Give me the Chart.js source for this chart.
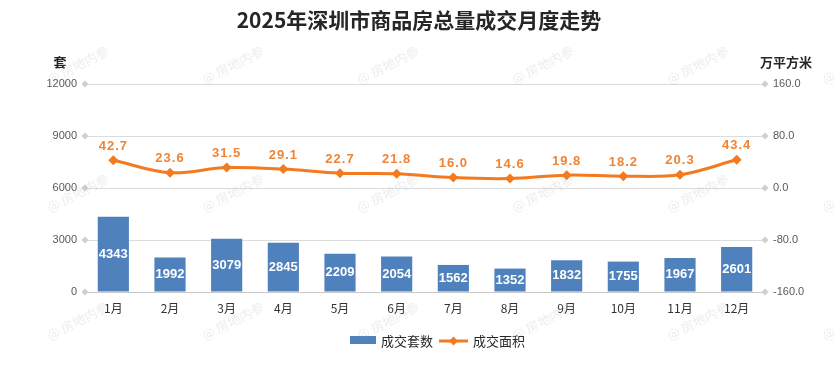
<!DOCTYPE html>
<html>
<head>
<meta charset="utf-8">
<script src="https://cdn.jsdelivr.net/npm/chart.js"></script>
<style>
  body { margin: 0; background: #fff; }
  canvas { display: block; }
</style>
</head>
<body>
<canvas id="grafica" width="836" height="372"></canvas>
<script>
// datos
const meses = ["1月", "2月", "3月", "4月", "5月", "6月", "7月", "8月", "9月", "10月", "11月", "12月"];
const tituloGrafica = "2025年深圳市商品房总量成交月度走势";
const nombreTaos = "成交套数";
const nombreArea = "成交面积";
const unidadIzq = "套";
const unidadDer = "万平方米";
const marcaAgua = "@ 房地内参";
const conjuntosVendidos = [4343, 1992, 3079, 2845, 2209, 2054, 1562, 1352, 1832, 1755, 1967, 2601];
const areaVendida = [42.7, 23.6, 31.5, 29.1, 22.7, 21.8, 16.0, 14.6, 19.8, 18.2, 20.3, 43.4];
const ticksIzq = [0, 3000, 6000, 9000, 12000];
const ticksDer = [-160, -80, 0, 80, 160];

const azul = "#4F81BD";
const naranja = "#F47A1F";
const naranjaTexto = "#EF8435";
const fuenteCJK = '"Noto Sans CJK SC", "Liberation Sans", sans-serif';
const fuenteNum = '"Liberation Sans", "Noto Sans CJK SC", sans-serif';

// rombos grises al final de cada linea de la cuadricula
const rombo = (ctx, x, y, r, color) => {
  ctx.beginPath();
  ctx.moveTo(x, y - r);
  ctx.lineTo(x + r, y);
  ctx.lineTo(x, y + r);
  ctx.lineTo(x - r, y);
  ctx.closePath();
  ctx.fillStyle = color;
  ctx.fill();
};

const pluginMarcaAgua = {
  id: "marcaAgua",
  afterDraw(chart) {
    const ctx = chart.ctx;
    ctx.save();
    ctx.font = "13px " + fuenteCJK;
    ctx.fillStyle = "rgba(160,160,160,0.2)";
    ctx.textAlign = "center";
    ctx.textBaseline = "middle";
    for (let fila = 0; fila < 3; fila++) {
      for (let col = 0; col < 6; col++) {
        ctx.save();
        ctx.translate(78 + col * 155, 65 + fila * 128);
        ctx.rotate(-27 * Math.PI / 180);
        ctx.fillText(marcaAgua, 0, 0);
        ctx.restore();
      }
    }
    ctx.restore();
  }
};

const pluginTextos = {
  id: "textos",
  afterDatasetsDraw(chart) {
    const ctx = chart.ctx;
    const area = chart.chartArea;
    ctx.save();

    // rombos de los ejes
    chart.scales.y.ticks.forEach((t, i) => {
      rombo(ctx, area.left, chart.scales.y.getPixelForTick(i), 3.5, "#cfcfcf");
    });
    chart.scales.y1.ticks.forEach((t, i) => {
      rombo(ctx, area.right, chart.scales.y1.getPixelForTick(i), 3.5, "#cfcfcf");
    });

    // etiquetas de barras
    const metaBar = chart.getDatasetMeta(0);
    ctx.font = "bold 13px " + fuenteNum;
    ctx.fillStyle = "#fff";
    ctx.textAlign = "center";
    ctx.textBaseline = "middle";
    metaBar.data.forEach((barra, i) => {
      const centro = (barra.y + barra.base) / 2;
      ctx.fillText(String(conjuntosVendidos[i]), barra.x, centro);
    });

    // etiquetas de la linea
    const metaLinea = chart.getDatasetMeta(1);
    ctx.font = "bold 13px " + fuenteNum;
    ctx.fillStyle = naranjaTexto;
    ctx.letterSpacing = "1px";
    metaLinea.data.forEach((punto, i) => {
      ctx.fillText(areaVendida[i].toFixed(1), punto.x, punto.y - 14);
    });
    ctx.letterSpacing = "0px";

    // titulo y unidades
    ctx.fillStyle = "#262626";
    ctx.font = "bold 21px " + fuenteCJK;
    ctx.fillText(tituloGrafica, 419, 20);
    ctx.font = "bold 13px " + fuenteCJK;
    ctx.fillText(unidadIzq, 60, 62);
    ctx.fillText(unidadDer, 786, 62);

    // leyenda
    ctx.fillStyle = azul;
    ctx.fillRect(350, 336, 26, 8);
    ctx.fillStyle = "#262626";
    ctx.font = "13px " + fuenteCJK;
    ctx.textAlign = "left";
    ctx.fillText(nombreTaos, 381, 341);
    ctx.strokeStyle = naranja;
    ctx.lineWidth = 3;
    ctx.beginPath();
    ctx.moveTo(439, 341);
    ctx.lineTo(468, 341);
    ctx.stroke();
    rombo(ctx, 453.5, 341, 4.5, naranja);
    ctx.fillStyle = "#262626";
    ctx.fillText(nombreArea, 473, 341);

    ctx.restore();
  }
};

new Chart(document.getElementById("grafica"), {
  type: "bar",
  data: {
    labels: meses,
    datasets: [{
      type: "bar",
      label: nombreTaos,
      data: conjuntosVendidos,
      backgroundColor: azul,
      yAxisID: "y",
      order: 1,
      categoryPercentage: 1,
      barPercentage: 0.55
    }, {
      type: "line",
      label: nombreArea,
      data: areaVendida,
      borderColor: naranja,
      backgroundColor: naranja,
      borderWidth: 3,
      tension: 0.35,
      pointStyle: "rectRot",
      pointRadius: 5,
      pointBackgroundColor: naranja,
      pointBorderWidth: 0,
      yAxisID: "y1",
      order: 0
    }]
  },
  options: {
    responsive: false,
    animation: false,
    layout: { padding: { top: 84, left: 0, right: 0, bottom: 0 } },
    plugins: {
      legend: { display: false },
      title: { display: false },
      tooltip: { enabled: false }
    },
    scales: {
      x: {
        grid: { display: false },
        border: { color: "#c8c8c8" },
        ticks: { color: "#333", font: { size: 12, family: fuenteCJK }, padding: 1 },
        afterFit: (eje) => { eje.height = 80; }
      },
      y: {
        position: "left",
        min: 0,
        max: 12000,
        afterBuildTicks: (eje) => { eje.ticks = ticksIzq.map(v => ({ value: v })); },
        ticks: {
          color: "#595959",
          font: { size: 11, family: fuenteNum },
          padding: 8,
          callback: (v) => String(v)
        },
        grid: { color: "#dcdcdc", drawTicks: false },
        border: { display: false },
        afterFit: (eje) => { eje.width = 85; }
      },
      y1: {
        position: "right",
        min: -160,
        max: 160,
        afterBuildTicks: (eje) => { eje.ticks = ticksDer.map(v => ({ value: v })); },
        ticks: {
          color: "#595959",
          font: { size: 11, family: fuenteNum },
          padding: 8,
          callback: (v) => Number(v).toFixed(1)
        },
        grid: { display: false, drawTicks: false },
        border: { display: false },
        afterFit: (eje) => { eje.width = 71; }
      }
    }
  },
  plugins: [pluginMarcaAgua, pluginTextos]
});
</script>
</body>
</html>
